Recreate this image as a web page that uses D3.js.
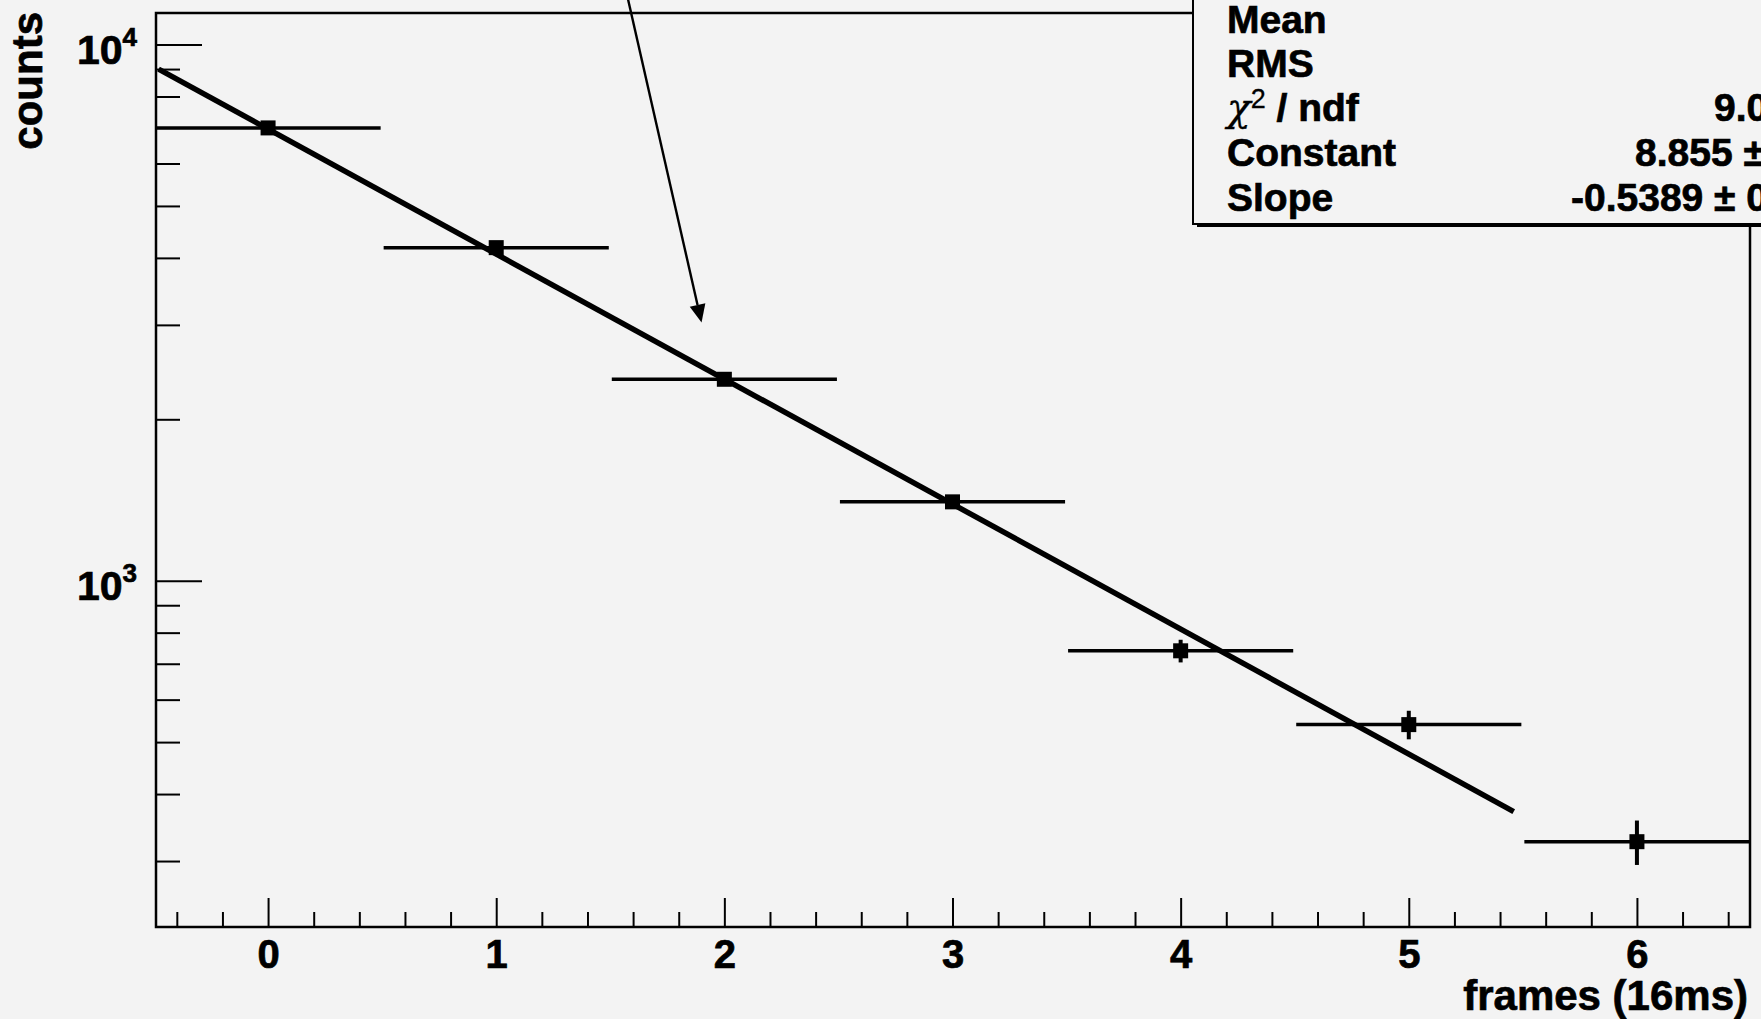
<!DOCTYPE html>
<html>
<head>
<meta charset="utf-8">
<script src="https://cdn.jsdelivr.net/npm/d3@7"></script>
<style>
  html, body { margin: 0; padding: 0; background: #f3f3f3; }
  svg { display: block; }
  text { font-family: "Liberation Sans", Arial, Helvetica, sans-serif; font-weight: bold; fill: #000; stroke: #000; stroke-width: 0.7px; }
</style>
</head>
<body>
<div id="chart"></div>
<script>
// histogram bins (frame index) and counts
const frames = [0, 1, 2, 3, 4, 5, 6];
const counts = [6990, 4180, 2375, 1403, 740, 539, 326];
const countErrors = [85, 65, 50, 40, 36, 33, 31];
const binWidth = 1;

// exponential fit, drawn as its two end points (straight on log axis)
const fitX = [-0.48, 5.46];
const fitY = [9000, 371];

// annotation arrow, in data coordinates
const arrowFrom = [1.578, 12130];
const arrowTo = [1.9, 3030];

const xTicks = [0, 1, 2, 3, 4, 5, 6];
const yDecades = [1000, 10000];

// stats box rows, the values are cut off by the picture edge
const statLabels = ["Mean", "RMS", "chi", "Constant", "Slope"];
const statValues = ["", "", "9.0", "8.855 \u00b1", "-0.5389 \u00b1 0"];

const W = 1761, H = 1019;
const frame = { left: 156, right: 1750, top: 13, bottom: 927 };

const svg = d3.select("#chart").append("svg")
  .attr("width", W)
  .attr("height", H);

svg.append("rect").attr("width", W).attr("height", H).attr("fill", "#f3f3f3");

const x = d3.scaleLinear().domain([-0.5, 6.5]).range([154, 1751]);
const y = d3.scaleLog().domain([226, 11450]).range([frame.bottom, frame.top]);

// x axis: major and minor ticks pointing up into the frame
const xMinor = d3.range(-0.4, 6.5, 0.2).filter(v => Math.abs(v - Math.round(v)) > 0.01);

svg.append("g")
  .attr("transform", `translate(0,${frame.bottom})`)
  .call(d3.axisBottom(x).tickValues(xMinor).tickSize(-15).tickFormat(""))
  .call(g => g.select(".domain").remove())
  .call(g => g.selectAll("line").attr("stroke", "#000").attr("stroke-width", 2));

svg.append("g")
  .attr("transform", `translate(0,${frame.bottom})`)
  .call(d3.axisBottom(x).tickValues(xTicks).tickSize(-29).tickPadding(13).tickFormat(d3.format("d")))
  .call(g => g.select(".domain").remove())
  .call(g => g.selectAll("line").attr("stroke", "#000").attr("stroke-width", 2))
  .call(g => g.selectAll("text")
    .attr("font-size", 40)
    .attr("font-family", "'Liberation Sans', Arial, sans-serif")
    .attr("font-weight", "bold")
    .attr("fill", "#000"));

// y axis: log ticks, drawn to the right of the left frame
const yMinor = y.ticks().filter(v => !yDecades.includes(v));

svg.append("g")
  .attr("transform", `translate(${frame.left},0)`)
  .call(d3.axisRight(y).tickValues(yMinor).tickSize(24).tickFormat(""))
  .call(g => g.select(".domain").remove())
  .call(g => g.selectAll("line").attr("stroke", "#000").attr("stroke-width", 2));

svg.append("g")
  .attr("transform", `translate(${frame.left},0)`)
  .call(d3.axisRight(y).tickValues(yDecades).tickSize(46).tickFormat(""))
  .call(g => g.select(".domain").remove())
  .call(g => g.selectAll("line").attr("stroke", "#000").attr("stroke-width", 2));

const yLab = svg.append("g").selectAll("text")
  .data(yDecades)
  .join("text")
  .attr("x", 137)
  .attr("y", d => y(d) + 19)
  .attr("text-anchor", "end")
  .attr("font-size", 41);
yLab.append("tspan").text("10");
yLab.append("tspan")
  .attr("font-size", 26)
  .attr("dy", -18)
  .text(d => Math.round(Math.log10(d)));

// axis titles
svg.append("text")
  .attr("x", 1748)
  .attr("y", 1010)
  .attr("text-anchor", "end")
  .attr("font-size", 42)
  .text("frames (16ms)");

svg.append("text")
  .attr("transform", "translate(42,12) rotate(-90)")
  .attr("text-anchor", "end")
  .attr("font-size", 42)
  .text("counts");

// data: bin-width bars, vertical errors and square markers
const pts = frames.map((f, i) => ({ f, c: counts[i], e: countErrors[i] }));
const plot = svg.append("g");

plot.selectAll(".hbar")
  .data(pts)
  .join("line")
  .attr("class", "hbar")
  .attr("x1", d => Math.max(x(d.f - binWidth / 2) + 1.5, frame.left))
  .attr("x2", d => Math.min(x(d.f + binWidth / 2) - 1.5, frame.right))
  .attr("y1", d => y(d.c))
  .attr("y2", d => y(d.c))
  .attr("stroke", "#000")
  .attr("stroke-width", 3.5);

plot.selectAll(".vbar")
  .data(pts)
  .join("line")
  .attr("class", "vbar")
  .attr("x1", d => x(d.f))
  .attr("x2", d => x(d.f))
  .attr("y1", d => y(d.c + d.e))
  .attr("y2", d => y(d.c - d.e))
  .attr("stroke", "#000")
  .attr("stroke-width", 4);

plot.selectAll(".mk")
  .data(pts)
  .join("rect")
  .attr("class", "mk")
  .attr("x", d => x(d.f) - 7.5)
  .attr("y", d => y(d.c) - 7.5)
  .attr("width", 15)
  .attr("height", 15)
  .attr("fill", "#000");

// fit line
const fitLine = d3.line().x(d => x(d[0])).y(d => y(d[1]));
plot.append("path")
  .datum(fitX.map((v, i) => [v, fitY[i]]))
  .attr("d", fitLine)
  .attr("fill", "none")
  .attr("stroke", "#000")
  .attr("stroke-width", 5.5);

// frame
svg.append("rect")
  .attr("x", frame.left)
  .attr("y", frame.top)
  .attr("width", frame.right - frame.left)
  .attr("height", frame.bottom - frame.top)
  .attr("fill", "none")
  .attr("stroke", "#000")
  .attr("stroke-width", 2.5);

// annotation arrow
const ax1 = x(arrowFrom[0]), ay1 = y(arrowFrom[1]);
const ax2 = x(arrowTo[0]), ay2 = y(arrowTo[1]);
const ang = Math.atan2(ay2 - ay1, ax2 - ax1);
const headLen = 18, headHalf = 8;
const bx = ax2 - headLen * Math.cos(ang), by = ay2 - headLen * Math.sin(ang);
svg.append("line")
  .attr("x1", ax1).attr("y1", ay1)
  .attr("x2", bx).attr("y2", by)
  .attr("stroke", "#000")
  .attr("stroke-width", 2.4);
svg.append("path")
  .attr("d", d3.line()([
    [ax2, ay2],
    [bx + headHalf * Math.sin(ang), by - headHalf * Math.cos(ang)],
    [bx - headHalf * Math.sin(ang), by + headHalf * Math.cos(ang)]
  ]) + "Z")
  .attr("fill", "#000");

// stats box (runs off the top and right edge)
const box = { left: 1193, bottom: 224 };
svg.append("rect")
  .attr("x", box.left + 4)
  .attr("y", -20)
  .attr("width", 700)
  .attr("height", box.bottom + 23)
  .attr("fill", "#000");
svg.append("rect")
  .attr("x", box.left)
  .attr("y", -20)
  .attr("width", 700)
  .attr("height", box.bottom + 20)
  .attr("fill", "#f3f3f3")
  .attr("stroke", "#000")
  .attr("stroke-width", 2);

const rowY = [33, 77, 121, 166, 211];
const valueX = [0, 0, 1714, 1635, 1571];

const st = svg.append("g");
statLabels.forEach((lab, i) => {
  const t = st.append("text")
    .attr("x", 1227)
    .attr("y", rowY[i])
    .attr("font-size", 39);
  if (lab === "chi") {
    t.append("tspan").attr("font-weight", "normal").attr("font-family", "'DejaVu Serif', serif").attr("font-style", "italic").attr("stroke-width", 0.3).text("\u03c7");
    t.append("tspan").attr("font-size", 27).attr("font-weight", "normal").attr("stroke-width", 0.3).attr("dy", -13).text("2");
    t.append("tspan").attr("dy", 13).text(" / ndf");
  } else {
    t.text(lab);
  }
  if (statValues[i]) {
    st.append("text")
      .attr("x", valueX[i])
      .attr("y", rowY[i])
      .attr("font-size", 39)
      .text(statValues[i]);
  }
});
</script>
</body>
</html>
